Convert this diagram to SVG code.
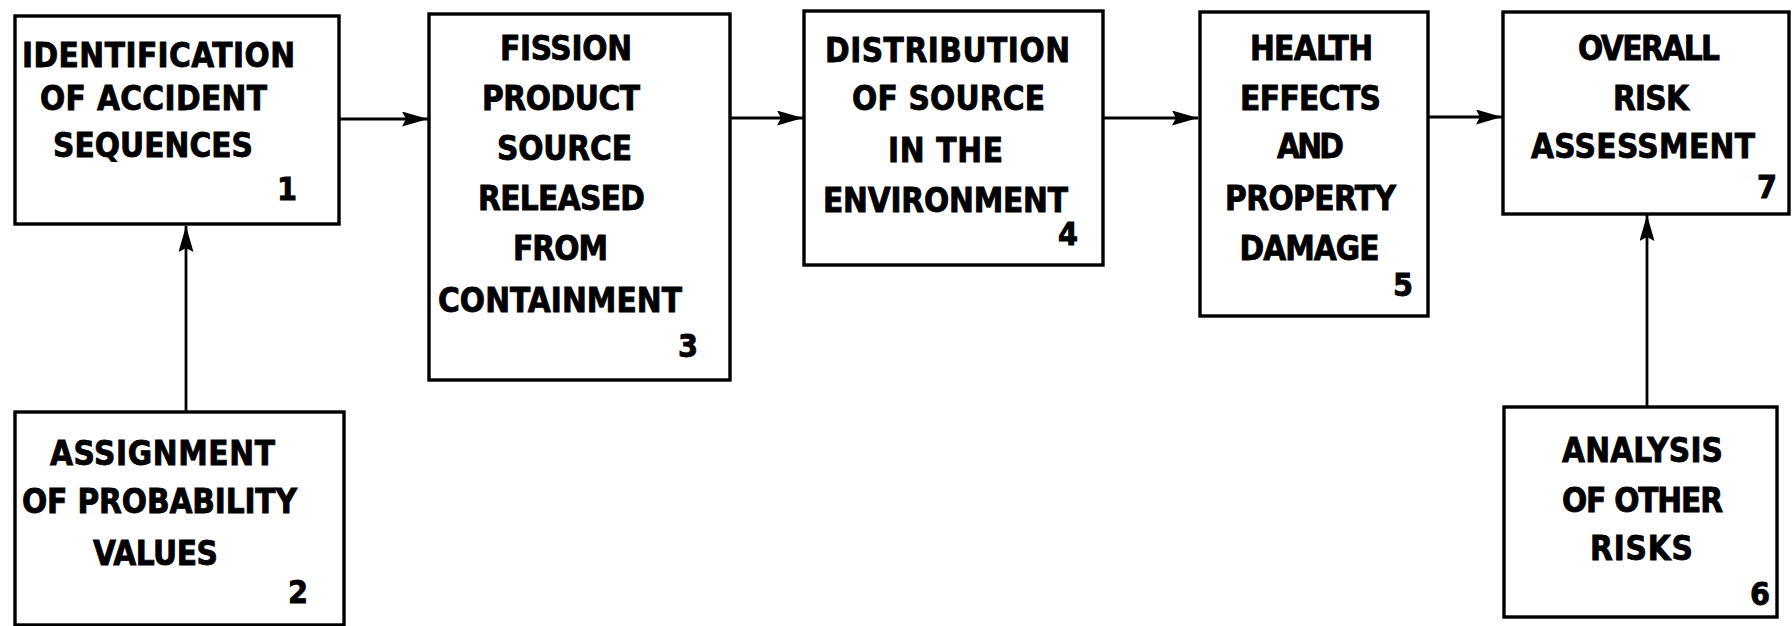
<svg xmlns="http://www.w3.org/2000/svg" width="1792" height="626" viewBox="0 0 1792 626">
<style>
.box{fill:#fff;stroke:#000;stroke-width:3.4}
.t{font-family:"DejaVu Sans Condensed","DejaVu Sans","Liberation Sans",sans-serif;font-stretch:condensed;font-weight:bold;font-size:33px;fill:#000;stroke:#000;stroke-width:0.8;text-anchor:middle}
.n{font-family:"DejaVu Sans Condensed","DejaVu Sans","Liberation Sans",sans-serif;font-stretch:condensed;font-weight:bold;font-size:32px;fill:#000;stroke:#000;stroke-width:0.8;text-anchor:end}
.c{stroke:#000;stroke-width:2.8;fill:none}
</style>
<defs>
<marker id="ah" markerUnits="userSpaceOnUse" markerWidth="28" markerHeight="16" refX="26" refY="7.5" orient="auto">
<path d="M0,0 L26,7.5 L0,15 L4,7.5 z" fill="#000"/>
</marker>
</defs>
<rect width="1792" height="626" fill="#fff"/>
<g id="connectors">
<line class="c" x1="340" y1="119" x2="428" y2="119" marker-end="url(#ah)"/>
<line class="c" x1="730" y1="118" x2="803" y2="118" marker-end="url(#ah)"/>
<line class="c" x1="1103" y1="118" x2="1198" y2="118" marker-end="url(#ah)"/>
<line class="c" x1="1428" y1="117" x2="1502" y2="117" marker-end="url(#ah)"/>
<line class="c" x1="186" y1="412" x2="186" y2="226" marker-end="url(#ah)"/>
<line class="c" x1="1647" y1="407" x2="1647" y2="215" marker-end="url(#ah)"/>
</g>
<g id="node1">
<rect class="box" x="15" y="16" width="324" height="208"/>
<text class="t" x="158.5" y="67" textLength="273">IDENTIFICATION</text>
<text class="t" x="153.5" y="110" textLength="227">OF ACCIDENT</text>
<text class="t" x="153" y="157" textLength="200">SEQUENCES</text>
<text class="n" x="297" y="200">1</text>
</g>
<g id="node2">
<rect class="box" x="15" y="412" width="329" height="213"/>
<text class="t" x="162.5" y="465" textLength="225">ASSIGNMENT</text>
<text class="t" x="159.5" y="513" textLength="275">OF PROBABILITY</text>
<text class="t" x="155.5" y="565" textLength="125">VALUES</text>
<text class="n" x="308" y="603">2</text>
</g>
<g id="node3">
<rect class="box" x="429" y="14" width="301" height="366"/>
<text class="t" x="566" y="60" textLength="132">FISSION</text>
<text class="t" x="561" y="110" textLength="158">PRODUCT</text>
<text class="t" x="564.5" y="160" textLength="135">SOURCE</text>
<text class="t" x="561.5" y="210" textLength="167">RELEASED</text>
<text class="t" x="560.5" y="260" textLength="95">FROM</text>
<text class="t" x="560" y="312" textLength="244">CONTAINMENT</text>
<text class="n" x="698" y="357">3</text>
</g>
<g id="node4">
<rect class="box" x="804" y="11" width="299" height="254"/>
<text class="t" x="947.5" y="62" textLength="245">DISTRIBUTION</text>
<text class="t" x="948.5" y="110" textLength="193">OF SOURCE</text>
<text class="t" x="945.5" y="162" textLength="115">IN THE</text>
<text class="t" x="945.5" y="212" textLength="245">ENVIRONMENT</text>
<text class="n" x="1078" y="245">4</text>
</g>
<g id="node5">
<rect class="box" x="1200" y="12" width="228" height="304"/>
<text class="t" x="1311.5" y="60" textLength="123">HEALTH</text>
<text class="t" x="1310.5" y="110" textLength="141">EFFECTS</text>
<text class="t" x="1310.5" y="158" textLength="67">AND</text>
<text class="t" x="1310.5" y="210" textLength="171">PROPERTY</text>
<text class="t" x="1309.5" y="260" textLength="140">DAMAGE</text>
<text class="n" x="1413" y="296">5</text>
</g>
<g id="node7">
<rect class="box" x="1503" y="12" width="286" height="202"/>
<text class="t" x="1649" y="60" textLength="142">OVERALL</text>
<text class="t" x="1651" y="110" textLength="76">RISK</text>
<text class="t" x="1643" y="158" textLength="224">ASSESSMENT</text>
<text class="n" x="1777" y="198">7</text>
</g>
<g id="node6">
<rect class="box" x="1504" y="407" width="273" height="210"/>
<text class="t" x="1642.5" y="462" textLength="161">ANALYSIS</text>
<text class="t" x="1642.5" y="512" textLength="161">OF OTHER</text>
<text class="t" x="1641.5" y="560" textLength="103">RISKS</text>
<text class="n" x="1770" y="605">6</text>
</g>
</svg>
